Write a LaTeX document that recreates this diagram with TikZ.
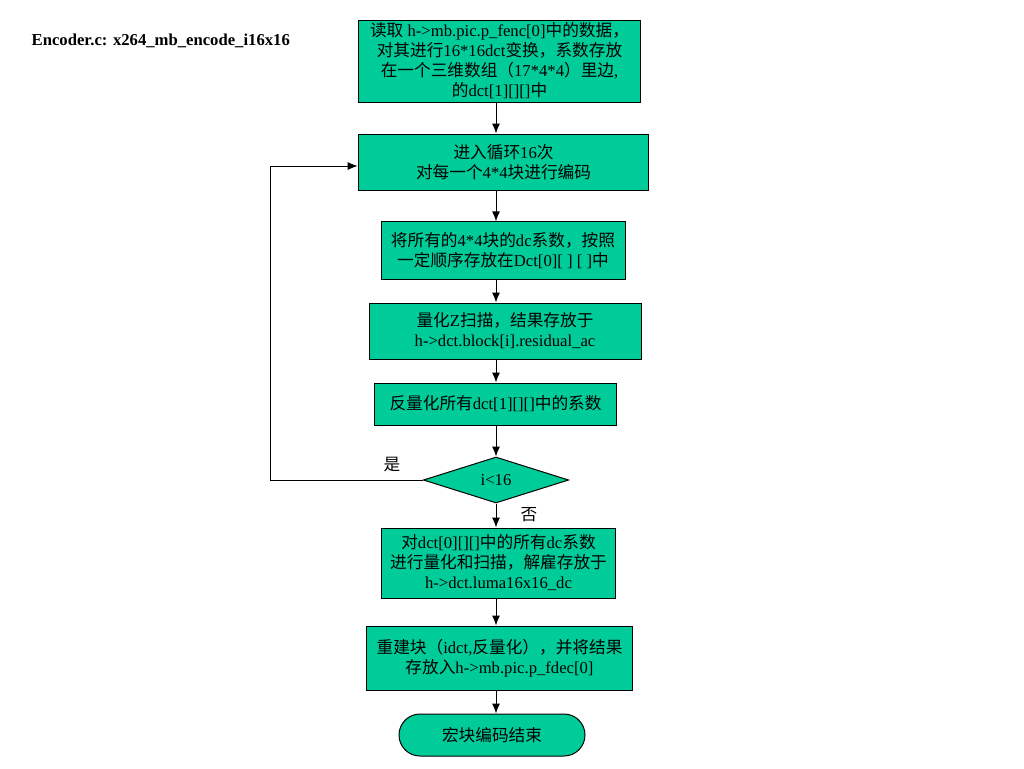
\documentclass[tikz,border=0pt]{standalone}
\usepackage{fontspec}
\setmainfont{Liberation Serif}
\newfontfamily\zhfont{Noto Sans CJK SC}
\usepackage{tikz}
\usetikzlibrary{calc,positioning,shapes.geometric,arrows.meta}
% switch to the CJK font for Chinese characters and full-width punctuation
\XeTeXinterchartokenstate=1
\newXeTeXintercharclass\zhclass
\newcount\zhcode
\zhcode="4E00
\loop\XeTeXcharclass\zhcode=\zhclass \ifnum\zhcode<"9FFF \advance\zhcode by 1 \repeat
\zhcode="3000
\loop\XeTeXcharclass\zhcode=\zhclass \ifnum\zhcode<"303F \advance\zhcode by 1 \repeat
\zhcode="FF00
\loop\XeTeXcharclass\zhcode=\zhclass \ifnum\zhcode<"FFEF \advance\zhcode by 1 \repeat
\XeTeXinterchartoks 0 \zhclass = {\zhfont}
\XeTeXinterchartoks 4095 \zhclass = {\zhfont}
\XeTeXinterchartoks \zhclass 0 = {\rmfamily}
\XeTeXinterchartoks \zhclass 4095 = {\rmfamily}
\definecolor{boxgreen}{RGB}{0,204,153}
\tikzset{
    >={Latex[length=7.5pt,width=6pt]}, % filled arrow heads
    procbox/.style={draw, line width=0.75, fill=boxgreen, align=center, inner sep=0},
    flowline/.style={->, line width=0.75},
}

\begin{document}
\begin{tikzpicture}[x=0.75pt,y=0.75pt,yscale=-1,xscale=1,
    font=\fontsize{12.5}{15}\selectfont]
		%set diagram to the page size
		\useasboundingbox (0,0) rectangle (1024,768);
		
		% Text Node
		\node [anchor=west, font=\fontsize{12.5}{15}\selectfont\bfseries] (title) at (27,41) {Encoder.c: x264\_mb\_encode\_i16x16};
		% Text Node
		\node [procbox, minimum width=212pt, minimum height=61.5pt] (readblk) at (499.5,61) {读取 h->mb.pic.p\_fenc[0]中的数据，\\对其进行16*16dct变换，系数存放\\在一个三维数组（17*4*4）里边,\\的dct[1][][]中};
		% Text Node
		\node [procbox, minimum width=218pt, minimum height=42pt] (loop) at (503.5,162) {进入循环16次\\对每一个4*4块进行编码};
		% Text Node
		\node [procbox, minimum width=183pt, minimum height=43pt] (dcstore) at (503,250.5) {将所有的4*4块的dc系数，按照\\一定顺序存放在Dct[0][ ] [ ]中};
		% Text Node
		\node [procbox, minimum width=204pt, minimum height=42pt] (quant) at (505,331) {量化Z扫描，结果存放于\\h->dct.block[i].residual\_ac};
		% Text Node
		\node [procbox, minimum width=182pt, minimum height=31.5pt] (dequant) at (495.5,404) {反量化所有dct[1][][]中的系数};
		% Text Node
		\node [procbox, diamond, minimum width=109pt, minimum height=34.5pt] (cond) at (496,480) {i<16};
		% Text Node
		\node [procbox, minimum width=176pt, minimum height=52.5pt] (dcquant) at (498.5,563) {对dct[0][][]中的所有dc系数\\进行量化和扫描，解雇存放于\\h->dct.luma16x16\_dc};
		% Text Node
		\node [procbox, minimum width=199pt, minimum height=48pt] (rebuild) at (499.5,658) {重建块（idct,反量化），并将结果\\存放入h->mb.pic.p\_fdec[0]};
		% Text Node
		\node [procbox, minimum width=139.5pt, minimum height=31.5pt, rounded corners=15.75pt] (finish) at (492,735) {宏块编码结束};
		% Text Node
		\node (yes) at (392,465) {是};
		% Text Node
		\node (no) at (529,515) {否};
		\coordinate (back) at (270,480);
		
		% Connection
		\draw [flowline] (readblk.south -| cond) -- (loop.north -| cond);
		% Connection
		\draw [flowline] (loop.south -| cond) -- (dcstore.north -| cond);
		% Connection
		\draw [flowline] (dcstore.south -| cond) -- (quant.north -| cond);
		% Connection
		\draw [flowline] (quant.south -| cond) -- (dequant.north -| cond);
		% Connection
		\draw [flowline] (dequant.south -| cond) -- (cond.north);
		% Connection
		\draw [flowline] (cond.south) -- (dcquant.north -| cond);
		% Connection
		\draw [flowline] (dcquant.south -| cond) -- (rebuild.north -| cond);
		% Connection
		\draw [flowline] (rebuild.south -| cond) -- (finish.north -| cond);
		% Connection
		\draw [flowline] (cond.west) -- (back) |- ([yshift=3]loop.west);
		
		\end{tikzpicture}
\end{document}
